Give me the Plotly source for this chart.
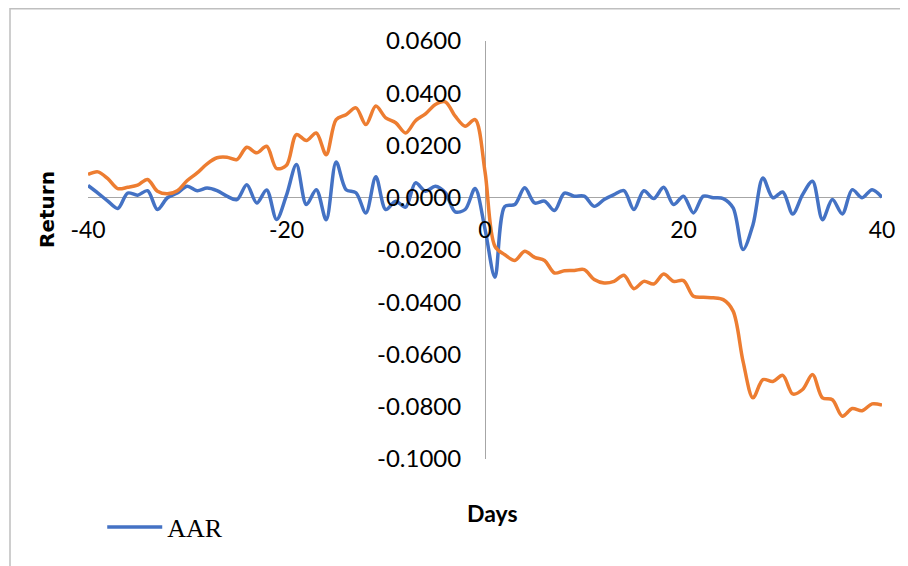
import plotly.graph_objects as go

days = list(range(-40, 41))

aar = [
    0.0047, 0.0018, -0.0013, -0.0041, 0.0018, 0.0010, 0.0027, -0.0045, 0.0000, 0.0018,
    0.0044, 0.0027, 0.0037, 0.0027, 0.0006, -0.0007, 0.0050, -0.0020, 0.0030, -0.0083,
    0.0010, 0.0127, -0.0026, 0.0031, -0.0084, 0.0137, 0.0031, 0.0019, -0.0058, 0.0080,
    -0.0045, -0.0013, -0.0036, 0.0057, 0.0025, 0.0044, 0.0019, -0.0054, -0.0045, 0.0035,
    -0.0120, -0.0304, -0.0033, -0.0026, 0.0038, -0.0020, -0.0013, -0.0049, 0.0018, 0.0006,
    0.0006, -0.0033, -0.0007, 0.0012, 0.0027, -0.0045, 0.0027, -0.0003, 0.0040, -0.0026,
    0.0006, -0.0058, 0.0006, 0.0000, -0.0003, -0.0039, -0.0198, -0.0103, 0.0076, 0.0000,
    0.0022, -0.0062, 0.0012, 0.0063, -0.0084, -0.0007, -0.0062, 0.0031, 0.0000, 0.0031,
    0.0002,
]

caar = [
    0.0089, 0.0099, 0.0073, 0.0035, 0.0040, 0.0048, 0.0070, 0.0025, 0.0015, 0.0027,
    0.0066, 0.0095, 0.0130, 0.0153, 0.0155, 0.0146, 0.0193, 0.0172, 0.0197, 0.0112,
    0.0124, 0.0242, 0.0219, 0.0248, 0.0165, 0.0299, 0.0318, 0.0344, 0.0280, 0.0351,
    0.0306, 0.0287, 0.0248, 0.0295, 0.0321, 0.0357, 0.0367, 0.0312, 0.0274, 0.0299,
    0.0100, -0.0186, -0.0218, -0.0240, -0.0205, -0.0228, -0.0240, -0.0288, -0.0279, -0.0278,
    -0.0275, -0.0313, -0.0326, -0.0320, -0.0297, -0.0348, -0.0320, -0.0330, -0.0292, -0.0320,
    -0.0317, -0.0377, -0.0381, -0.0383, -0.0390, -0.0434, -0.0626, -0.0766, -0.0696, -0.0703,
    -0.0680, -0.0751, -0.0734, -0.0677, -0.0766, -0.0773, -0.0836, -0.0807, -0.0815, -0.0789,
    -0.0794,
]

x_ticks = [-40, -20, 0, 20, 40]
y_ticks = [0.06, 0.04, 0.02, 0.0, -0.02, -0.04, -0.06, -0.08, -0.1]

fig = go.Figure()
fig.add_trace(go.Scatter(
    x=days, y=aar, mode="lines", name="AAR",
    line=dict(color="#4472C4", width=3.5, shape="spline", smoothing=0.9),
))
fig.add_trace(go.Scatter(
    x=days, y=caar, mode="lines", name="CAAR", showlegend=False,
    line=dict(color="#ED7D31", width=3.5, shape="spline", smoothing=0.9),
))

y_min, y_max = -0.1, 0.06
zero_frac = (0 - y_min) / (y_max - y_min)

# figure is placed at an 8px offset by the page body margin
W, H = 900, 558
L, R, T, B = 80, 26, 33, 107
PW, PH = W - L - R, H - T - B


def px(xp):
    return (xp - 8 - L) / PW


def py(yp):
    return (H - B - (yp - 8)) / PH


fig.update_layout(
    width=W, height=H,
    margin=dict(l=L, r=R, t=T, b=B, autoexpand=False),
    paper_bgcolor="white", plot_bgcolor="white",
    font=dict(family="Lato", size=23, color="black"),
    xaxis=dict(
        range=[-40, 40], tickvals=x_ticks, ticktext=[str(v) for v in x_ticks],
        showgrid=False, showline=False,
        zeroline=True, zerolinecolor="#A6A6A6", zerolinewidth=1.2,
        anchor="free", position=zero_frac,
        ticks="outside", ticklen=12, tickcolor="rgba(0,0,0,0)",
        tickfont=dict(family="Lato", size=23, color="black"),
    ),
    yaxis=dict(
        range=[y_min, y_max], tickvals=y_ticks,
        ticktext=[f"{v:.4f}" if abs(v) > 1e-12 else "0.0000" for v in y_ticks],
        showgrid=False, showline=False,
        zeroline=True, zerolinecolor="#A6A6A6", zerolinewidth=1.4,
        anchor="free", position=0.5,
        ticks="outside", ticklen=19, tickcolor="rgba(0,0,0,0)",
        tickfont=dict(family="Lato", size=24, color="black"),
    ),
    legend=dict(
        x=px(107) - 0.006, y=py(527), xanchor="left", yanchor="middle",
        orientation="h", itemwidth=55, bgcolor="rgba(0,0,0,0)",
        font=dict(family="Liberation Serif", size=26, color="black"),
    ),
    showlegend=True,
)

fig.add_annotation(
    text="<b>Return</b>", xref="paper", yref="paper",
    x=px(47), y=py(210), xanchor="center", yanchor="middle",
    showarrow=False, textangle=-90,
    font=dict(family="DejaVu Sans", size=20, color="black"),
)
fig.add_annotation(
    text="<b>Days</b>", xref="paper", yref="paper",
    x=px(492), y=py(513), xanchor="center", yanchor="middle", showarrow=False,
    font=dict(family="Lato", size=23, color="black"),
)

fig.add_shape(
    type="rect", xref="paper", yref="paper",
    x0=px(10), x1=1.2, y0=-0.6, y1=py(8.8),
    line=dict(color="#BFBFBF", width=1.5), fillcolor="rgba(0,0,0,0)", layer="below",
)

fig.write_html("out.html")
